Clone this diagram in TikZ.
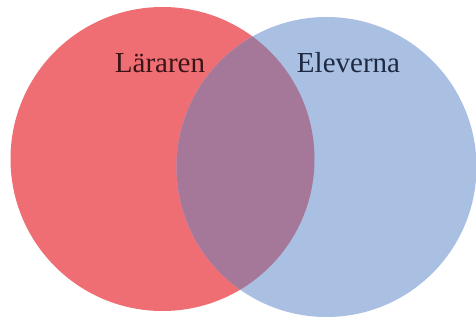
\documentclass[tikz,border=0pt]{standalone}
\usepackage{fontspec}
\setmainfont{Liberation Serif}
\definecolor{redc}{HTML}{EE6E73}
\definecolor{bluec}{HTML}{AAC0E2}
\definecolor{overc}{HTML}{A57899}
\definecolor{redtxt}{HTML}{3A1416}
\definecolor{bluetxt}{HTML}{1E2A44}
\begin{document}
\begin{tikzpicture}[x=1pt,y=-1pt,
  lbl/.style={font=\fontsize{29}{32}\selectfont, anchor=base, inner sep=0pt}]
\useasboundingbox (0,0) rectangle (476,320);
\fill[white] (0,0) rectangle (476,320);
\fill[redc] (162.5,159) circle[radius=152];
\fill[bluec] (326.5,167) circle[radius=150];
\begin{scope}
  \clip (162.5,159) circle[radius=152];
  \fill[overc] (326.5,167) circle[radius=150];
\end{scope}
\node[lbl, text=redtxt] (lar) at (160,73) {Läraren};
\node[lbl, text=bluetxt] (ele) at (348.5,73) {Eleverna};
\end{tikzpicture}
\end{document}
